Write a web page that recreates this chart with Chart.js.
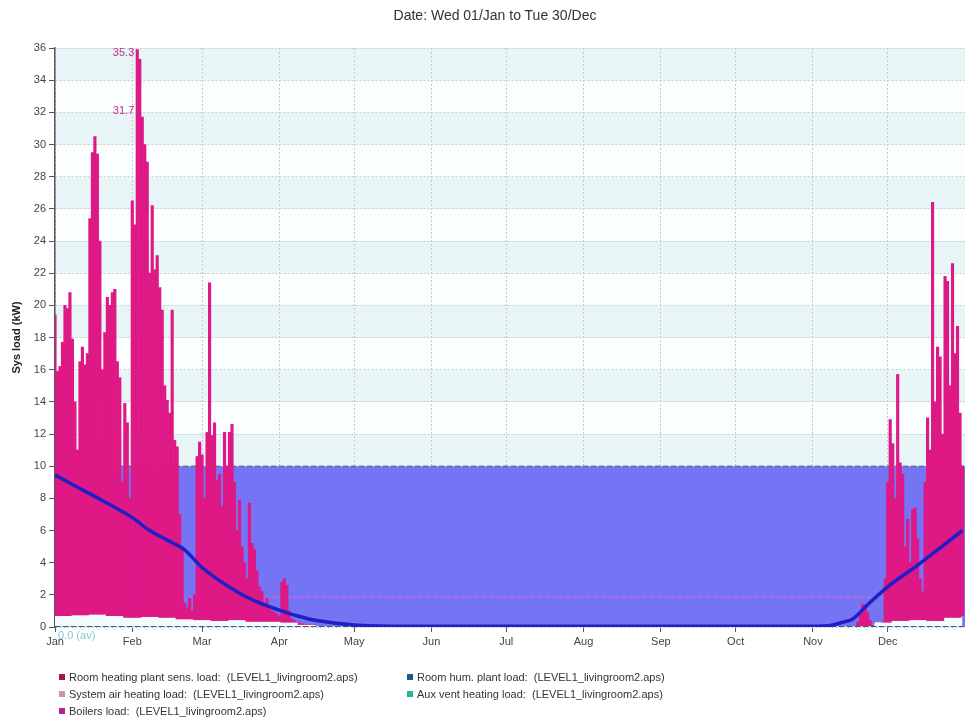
<!DOCTYPE html>
<html>
<head>
<meta charset="utf-8">
<script src="https://cdn.jsdelivr.net/npm/chart.js@4.4.1/dist/chart.umd.min.js"></script>
<style>
    body { margin: 0; background: #fff; font-family: 'Liberation Sans', Arial, sans-serif; }
    #wrap { position: relative; width: 973px; height: 718px; }
    #title { position: absolute; left: 0; top: 7px; width: 990px; text-align: center; font-size: 14px; color: #333; }
    .leg { position: absolute; font-size: 11px; color: #333; white-space: pre; line-height: 17px; }
    .sq { display: inline-block; width: 6px; height: 6px; margin-right: 4px; vertical-align: 1px; }
</style>
</head>
<body>
<div id="wrap">
    <canvas id="myChart" width="973" height="718"></canvas>
    <div id="title">Date: Wed 01/Jan to Tue 30/Dec</div>
    <div class="leg" id="leg1" style="left:59px; top:669px;"></div>
    <div class="leg" id="leg2" style="left:407px; top:669px;"></div>
</div>
<script>
const monthNames = ['Jan', 'Feb', 'Mar', 'Apr', 'May', 'Jun', 'Jul', 'Aug', 'Sep', 'Oct', 'Nov', 'Dec'];
const monthStartDays = [0, 31, 59, 90, 120, 151, 181, 212, 243, 273, 304, 334];

// daily peak load (kW), Jan 1 .. Apr 16
const janAprPeaks = [
    19.4, 15.9, 16.2, 17.7, 20.0, 19.8, 20.8, 17.9, 14.0, 11.0,
    16.5, 17.4, 16.3, 17.0, 25.4, 29.5, 30.5, 29.4, 24.0, 16.0,
    18.3, 20.5, 20.0, 20.8, 21.0, 16.5, 15.5, 9.0, 13.9, 12.7,
    8.0, 26.5, 25.0, 35.9, 35.3, 31.7, 30.0, 28.9, 22.0, 26.2,
    22.2, 23.1, 21.1, 19.7, 15.0, 14.1, 13.3, 19.7, 11.6, 11.2,
    7.0, 5.0, 1.5, 1.2, 1.8, 1.0, 2.0, 10.6, 11.5, 10.7,
    8.0, 12.1, 21.4, 11.9, 12.7, 9.1, 9.5, 7.5, 12.1, 10.0,
    12.1, 12.6, 9.0, 6.0, 7.9, 5.0, 4.0, 3.0, 7.7, 5.2,
    4.8, 3.5, 2.5, 2.2, 1.5, 1.8, 1.2, 1.0, 0.9, 0.8,
    0.7, 2.8, 3.0, 2.6, 1.0, 0.5, 0.4, 0.3, 0.25, 0.2,
    0.15, 0.1, 0.1, 0.05, 0.05, 0.0
];

// daily peak load (kW), Nov 15 .. Dec 31
const novDecStartDay = 318;
const novDecPeaks = [
    0, 0, 0, 0, 0.3, 0.8, 1.4, 1.2, 0.9, 0.4,
    0.1, 0, 0, 0, 0.2, 3.0, 9.0, 12.9, 11.4, 8.0,
    15.7, 10.2, 9.5, 5.0, 6.7, 4.0, 7.3, 7.4, 5.5, 3.0,
    2.2, 9.0, 13.0, 11.0, 26.4, 14.0, 17.4, 16.8, 12.0, 21.8,
    21.5, 15.0, 22.6, 17.0, 18.7, 13.3, 10.0
];

// weekly minimum load (kW), weeks 0..52
const weeklyTroughs = [
    0.7, 0.75, 0.8, 0.7, 0.6, 0.65, 0.6, 0.5, 0.45, 0.4,
    0.45, 0.35, 0.35, 0.3, 0.15, 0.05, 0, 0, 0, 0,
    0, 0, 0, 0, 0, 0, 0, 0, 0, 0,
    0, 0, 0, 0, 0, 0, 0, 0, 0, 0,
    0, 0, 0, 0, 0, 0, 0, 0.3, 0.4, 0.45,
    0.4, 0.6, 0.7
];

// smoothed load curve
const trendDays = [0, 15, 31, 38, 45, 52, 59, 74, 82, 90, 97, 105, 120, 135, 304, 311, 316, 320, 326, 334, 346, 364];
const trendLoad = [9.45, 8.2, 6.8, 6.0, 5.4, 4.8, 3.7, 2.1, 1.5, 1.05, 0.7, 0.4, 0.12, 0.05, 0.05, 0.1, 0.3, 0.5, 1.4, 2.5, 3.85, 6.0];

const capacityLoad = 10;
const plantAvgLoad = 1.85;
const peakNotes = [
    { day: 33, value: 35.3, text: '35.3' },
    { day: 33, value: 31.7, text: '31.7' }
];

const legendNames = [
    'Room heating plant sens. load:  (LEVEL1_livingroom2.aps)',
    'System air heating load:  (LEVEL1_livingroom2.aps)',
    'Boilers load:  (LEVEL1_livingroom2.aps)',
    'Room hum. plant load:  (LEVEL1_livingroom2.aps)',
    'Aux vent heating load:  (LEVEL1_livingroom2.aps)'
];
const legendColors = ['#a5164c', '#c99a98', '#b52296', '#1b5b84', '#22b3a2'];

document.addEventListener("DOMContentLoaded", function () {
    const fontFamily = "'Liberation Sans', Arial, sans-serif";

    legendNames.forEach((name, i) => {
        const row = document.createElement('div');
        row.innerHTML = '<span class="sq" style="background:' + legendColors[i] + '"></span>' + name;
        document.getElementById(i < 3 ? 'leg1' : 'leg2').appendChild(row);
    });

    function troughFor(day) {
        return weeklyTroughs[Math.floor(day / 7)];
    }

    const heatingDays = [];
    janAprPeaks.forEach((p, i) => heatingDays.push({ day: i, peak: p }));
    novDecPeaks.forEach((p, i) => heatingDays.push({ day: novDecStartDay + i, peak: p }));

    const boilerBars = heatingDays
        .filter(d => d.peak > 0)
        .map(d => ({ x: d.day, y: [troughFor(d.day), Math.max(d.peak, troughFor(d.day))] }));

    const basePoints = [];
    janAprPeaks.forEach((p, i) => basePoints.push({ x: i, y: troughFor(i) }));
    basePoints.push({ x: 200, y: null });
    novDecPeaks.forEach((p, i) => basePoints.push({ x: novDecStartDay + i, y: troughFor(novDecStartDay + i) }));

    const trendPoints = trendDays.map((d, i) => ({ x: d, y: trendLoad[i] }));

    const bandPlugin = {
        id: 'bands',
        beforeDraw(chart) {
            const { ctx, chartArea: a, scales: { y } } = chart;
            ctx.save();
            ctx.fillStyle = '#fff';
            ctx.fillRect(0, 0, chart.width, chart.height);
            for (let v = 0; v < 36; v += 2) {
                ctx.fillStyle = (v / 2) % 2 ? '#e8f5f7' : '#fbfefe';
                const top = y.getPixelForValue(v + 2);
                const bottom = y.getPixelForValue(v);
                ctx.fillRect(a.left, top, a.right - a.left, bottom - top);
            }
            ctx.restore();
        }
    };

    const notePlugin = {
        id: 'notes',
        afterDraw(chart) {
            const { ctx, scales: { x, y } } = chart;
            ctx.save();
            ctx.font = '11px ' + fontFamily;
            ctx.fillStyle = '#c22c8e';
            ctx.textAlign = 'right';
            ctx.textBaseline = 'middle';
            peakNotes.forEach(n => {
                ctx.fillText(n.text, x.getPixelForValue(n.day) - 3, y.getPixelForValue(n.value) - 6);
            });
            ctx.fillStyle = '#82cccc';
            ctx.textAlign = 'left';
            ctx.fillText('0.0 (av)', x.getPixelForValue(0) + 3, y.getPixelForValue(0) + 9);
            ctx.restore();
        }
    };

    const ctx = document.getElementById('myChart').getContext('2d');

    new Chart(ctx, {
        type: 'bar',
        data: {
            datasets: [
                {
                    type: 'line',
                    label: 'Trend',
                    data: trendPoints,
                    borderColor: '#1f1fc6',
                    borderWidth: 3.5,
                    pointRadius: 0,
                    cubicInterpolationMode: 'monotone',
                    fill: false,
                    order: 1
                },
                {
                    type: 'line',
                    label: 'Room hum. plant load',
                    data: [{ x: 0, y: 0 }, { x: 365, y: 0 }],
                    borderColor: '#1b2b6a',
                    borderWidth: 1.5,
                    borderDash: [5, 3],
                    pointRadius: 0,
                    fill: false,
                    order: 2
                },
                {
                    type: 'line',
                    label: 'Aux vent heating load',
                    data: [{ x: 0, y: 0 }, { x: 365, y: 0 }],
                    borderColor: '#8fd6d4',
                    borderWidth: 2,
                    pointRadius: 0,
                    fill: false,
                    order: 3
                },
                {
                    type: 'bar',
                    label: 'Boilers load',
                    data: boilerBars,
                    backgroundColor: 'rgb(222, 24, 132)',
                    borderWidth: 0,
                    barPercentage: 1,
                    categoryPercentage: 1,
                    order: 5
                },
                {
                    type: 'line',
                    label: 'System air heating load',
                    data: [{ x: 0, y: plantAvgLoad }, { x: 365, y: plantAvgLoad }],
                    borderColor: 'rgba(226, 96, 206, 0.9)',
                    borderWidth: 1.5,
                    borderDash: [4, 3],
                    pointRadius: 0,
                    fill: false,
                    order: 6
                },
                {
                    type: 'line',
                    label: 'Base',
                    data: basePoints,
                    borderWidth: 0,
                    backgroundColor: '#f3fbfb',
                    pointRadius: 0,
                    spanGaps: false,
                    fill: 'origin',
                    order: 9
                },
                {
                    type: 'line',
                    label: 'Room heating plant sens. load',
                    data: [{ x: 0, y: capacityLoad }, { x: 365, y: capacityLoad }],
                    borderColor: '#555',
                    borderWidth: 1,
                    borderDash: [5, 3],
                    backgroundColor: 'rgb(116, 116, 245)',
                    pointRadius: 0,
                    fill: 'origin',
                    order: 10
                }
            ]
        },
        options: {
            responsive: false,
            animation: false,
            layout: { padding: { left: 0, right: 8, top: 48, bottom: 69 } },
            plugins: {
                legend: { display: false },
                tooltip: { enabled: false }
            },
            scales: {
                x: {
                    type: 'linear',
                    min: 0,
                    max: 365,
                    offset: false,
                    afterBuildTicks: scale => {
                        scale.ticks = monthStartDays.map(v => ({ value: v }));
                    },
                    afterFit: scale => {
                        scale.height = 22;
                    },
                    ticks: {
                        autoSkip: false,
                        maxRotation: 0,
                        padding: 3,
                        color: '#444',
                        font: { size: 11, family: fontFamily },
                        callback: v => monthNames[monthStartDays.indexOf(v)]
                    },
                    grid: {
                        color: '#c9c9c9',
                        offset: false,
                        drawTicks: true,
                        tickLength: 5,
                        tickColor: '#555'
                    },
                    border: { display: false, dash: [2, 2] }
                },
                y: {
                    min: 0,
                    max: 36,
                    afterFit: scale => {
                        scale.width = 55;
                    },
                    ticks: {
                        stepSize: 2,
                        padding: 3,
                        color: '#444',
                        font: { size: 11, family: fontFamily }
                    },
                    grid: {
                        color: '#c9c9c9',
                        drawTicks: true,
                        tickLength: 6,
                        tickColor: '#555'
                    },
                    border: { display: true, color: '#555', width: 1.5, dash: [2, 2] },
                    title: {
                        display: true,
                        text: 'Sys load (kW)',
                        color: '#222',
                        padding: { top: 10, bottom: 4 },
                        font: { size: 11, weight: 'bold', family: fontFamily }
                    }
                }
            }
        },
        plugins: [bandPlugin, notePlugin]
    });
});
</script>
</body>
</html>
